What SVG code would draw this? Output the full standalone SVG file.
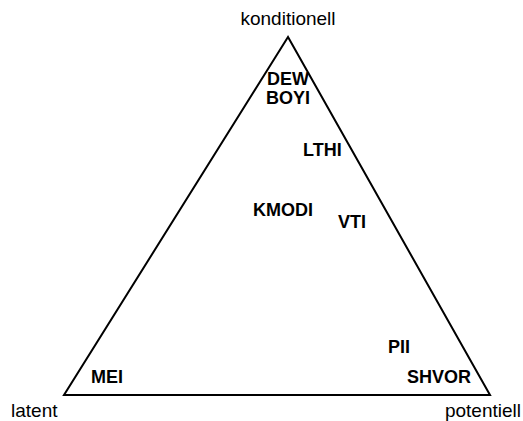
<svg xmlns="http://www.w3.org/2000/svg" width="523" height="421" viewBox="0 0 523 421">
<style>
.ax{font-family:"Liberation Sans",Arial,sans-serif;font-size:19px;fill:#000}
.lb{font-family:"Liberation Sans",Arial,sans-serif;font-size:18px;font-weight:bold;fill:#000}
</style>
<rect width="523" height="421" fill="#fff"/>
<g id="connectors">
<polygon points="288,37 64,395 490,395" fill="none" stroke="#000" stroke-width="2"/>
</g>
<g id="konditionell"><text class="ax" x="288" y="25" text-anchor="middle">konditionell</text></g>
<g id="latent"><text class="ax" x="11" y="417">latent</text></g>
<g id="potentiell"><text class="ax" x="521" y="417" text-anchor="end">potentiell</text></g>
<g id="DEW"><text class="lb" x="288" y="85" text-anchor="middle">DEW</text></g>
<g id="BOYI"><text class="lb" x="288" y="104" text-anchor="middle">BOYI</text></g>
<g id="LTHI"><text class="lb" x="303" y="156">LTHI</text></g>
<g id="KMODI"><text class="lb" x="253" y="216">KMODI</text></g>
<g id="VTI"><text class="lb" x="338" y="228">VTI</text></g>
<g id="PII"><text class="lb" x="388" y="353">PII</text></g>
<g id="SHVOR"><text class="lb" x="407" y="383">SHVOR</text></g>
<g id="MEI"><text class="lb" x="91" y="383">MEI</text></g>
</svg>
